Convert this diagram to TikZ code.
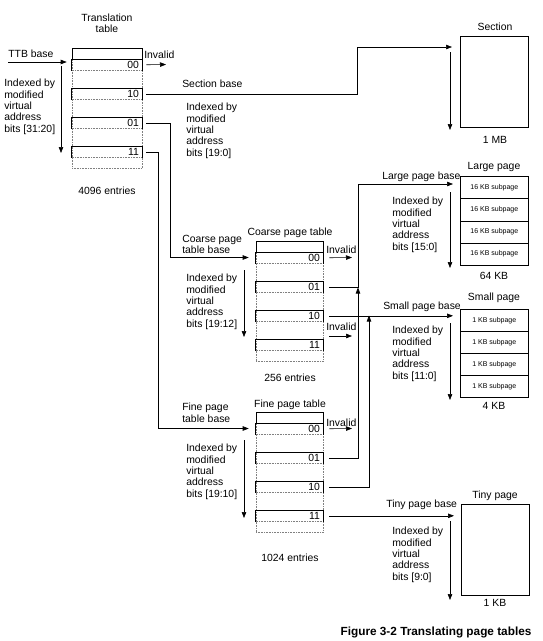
\documentclass[tikz,border=0pt]{standalone}
\usepackage{fontspec}
\setmainfont{Liberation Sans}
\usetikzlibrary{arrows.meta}

\tikzset{
  lbl/.style={inner sep=0pt, align=left, anchor=north west},
  ttl/.style={inner sep=0pt, align=center},
  tbl/.style={draw=gray, densely dotted, minimum width=#1, minimum height=120pt, anchor=north, inner sep=0pt},
  topcell/.style={draw, minimum width=#1, minimum height=11pt, anchor=north, inner sep=0pt},
  entry/.style={text width=#1, align=right, inner xsep=3pt, inner ysep=0pt, minimum height=11pt, anchor=north},
  rowfoot/.style={draw=gray, densely dotted},
  pagebox/.style={draw, minimum width=68pt, minimum height=#1, anchor=north west, inner sep=0pt},
  subpage/.style={draw, minimum width=68pt, minimum height=#1, anchor=north west, inner sep=0pt, font=\fontsize{7}{8}\selectfont},
  link/.style={->},
}

\begin{document}
\begin{tikzpicture}[x=1pt, y=-1pt, >={Triangle[length=6pt,width=4.5pt]}, line width=0.6pt,
  font=\fontsize{10.4}{11.3}\selectfont]
\useasboundingbox (0,0) rectangle (543,641);

% translation table
\node[ttl] (tttitle) at (107,23) {Translation\\table};
\node[tbl=70pt] (tt) at (107,48) {};
\node[topcell=70pt] (tttop) at (tt.north) {};
\foreach \bits [count=\i from 0] in {00,10,01,11} {
  \node[entry=64pt] (tt\bits) at (107,59+29*\i) {\bits};
  \draw[rowfoot] (tt\bits.south west) -- (tt\bits.south east);
  \draw (tt\bits.south west) |- (tt\bits.north east) -- (tt\bits.south east);
}
\node[ttl] (ttcount) at (107,191) {4096 entries};
\node[lbl, anchor=west] (ttblbl) at (8,54) {TTB base};
\node[lbl, anchor=west] (ttinv) at (144,55) {Invalid};
\node[lbl] (ttidx) at (4,79) {Indexed by\\modified\\virtual\\address\\bits [31:20]};

% section
\node[ttl] (sectitle) at (495,27) {Section};
\node[pagebox=91pt] (section) at (460,36) {};
\node[ttl] (secsize) at (495,140) {1 MB};
\node[lbl, anchor=west] (secbase) at (182,84) {Section base};
\node[lbl] (secidx) at (186,103) {Indexed by\\modified\\virtual\\address\\bits [19:0]};

% coarse page table
\node[ttl] (cpttitle) at (290,233) {Coarse page table};
\node[tbl=67pt] (cpt) at (289.5,241) {};
\node[topcell=67pt] (cpttop) at (cpt.north) {};
\foreach \bits [count=\i from 0] in {00,01,10,11} {
  \node[entry=61pt] (cpt\bits) at (289.5,252+29*\i) {\bits};
  \draw[rowfoot] (cpt\bits.south west) -- (cpt\bits.south east);
  \draw (cpt\bits.south west) |- (cpt\bits.north east) -- (cpt\bits.south east);
}
\node[ttl] (cptcount) at (290,378) {256 entries};
\node[lbl] (cptbase) at (182,235) {Coarse page\\table base};
\node[lbl] (cptidx) at (186,274) {Indexed by\\modified\\virtual\\address\\bits [19:12]};
\node[lbl, anchor=west] (cptinva) at (326,250) {Invalid};
\node[lbl, anchor=west] (cptinvb) at (326,327) {Invalid};

% fine page table
\node[ttl] (fpttitle) at (290,405) {Fine page table};
\node[tbl=67pt] (fpt) at (289.5,412) {};
\node[topcell=67pt] (fpttop) at (fpt.north) {};
\foreach \bits [count=\i from 0] in {00,01,10,11} {
  \node[entry=61pt] (fpt\bits) at (289.5,423+29*\i) {\bits};
  \draw[rowfoot] (fpt\bits.south west) -- (fpt\bits.south east);
  \draw (fpt\bits.south west) |- (fpt\bits.north east) -- (fpt\bits.south east);
}
\node[ttl] (fptcount) at (290,558) {1024 entries};
\node[lbl] (fptbase) at (182,403) {Fine page\\table base};
\node[lbl] (fptidx) at (186,444) {Indexed by\\modified\\virtual\\address\\bits [19:10]};
\node[lbl, anchor=west] (fptinv) at (326,423) {Invalid};

% large page
\node[ttl] (lptitle) at (494,167) {Large page};
\foreach \i in {0,...,3}
  \node[subpage=22.25pt] (lp\i) at (460,176+22.25*\i) {16 KB subpage};
\node[ttl] (lpsize) at (494,276) {64 KB};
\node[lbl, anchor=west] (lpbase) at (382,177) {Large page base};
\node[lbl] (lpidx) at (392,197) {Indexed by\\modified\\virtual\\address\\bits [15:0]};

% small page
\node[ttl] (sptitle) at (494,298) {Small page};
\foreach \i in {0,...,3}
  \node[subpage=22pt] (sp\i) at (460,309+22*\i) {1 KB subpage};
\node[ttl] (spsize) at (494,406) {4 KB};
\node[lbl, anchor=west] (spbase) at (383,307) {Small page base};
\node[lbl] (spidx) at (392,326) {Indexed by\\modified\\virtual\\address\\bits [11:0]};

% tiny page
\node[ttl] (tptitle) at (495,496) {Tiny page};
\node[pagebox=91pt] (tiny) at (461,504) {};
\node[ttl] (tpsize) at (495,603) {1 KB};
\node[lbl, anchor=west] (tpbase) at (386,505) {Tiny page base};
\node[lbl] (tpidx) at (392,527) {Indexed by\\modified\\virtual\\address\\bits [9:0]};

\node[ttl, font=\fontsize{11.8}{13}\selectfont\bfseries] (caption) at (436,632) {Figure 3-2 Translating page tables};

% free ends and bends
\coordinate (ttbin) at (8,62);
\coordinate (ttinvend) at (166,64.5);
\coordinate (ttidxa) at (61,66);
\coordinate (ttidxb) at (61,153);
\coordinate (secbend) at (357,47);
\coordinate (secidxa) at (450,52);
\coordinate (secidxb) at (450,130);
\coordinate (cptbend) at (170,257.5);
\coordinate (fptbend) at (158,428.5);
\coordinate (cptidxa) at (244,270);
\coordinate (cptidxb) at (244,337);
\coordinate (cptinvaend) at (352,257.5);
\coordinate (cptinvbend) at (352,336);
\coordinate (fptidxa) at (244,440);
\coordinate (fptidxb) at (244,518);
\coordinate (fptinvend) at (352,428.5);
\coordinate (lpbend) at (358,184);
\coordinate (lpjoin) at (358,287.5);
\coordinate (spjoin) at (369,315.5);
\coordinate (lpidxa) at (450,192);
\coordinate (lpidxb) at (450,268);
\coordinate (spidxa) at (450,323);
\coordinate (spidxb) at (450,400);
\coordinate (tpidxa) at (450,521);
\coordinate (tpidxb) at (450,600);

% connectors
\draw[link, shorten >=5pt] (ttbin) -- (ttbin -| tt.west);
\draw[link, shorten <=4pt] (tt00.east) -- (ttinvend);
\draw[link] (ttidxa) -- (ttidxb);
\draw[link, shorten <=4pt, shorten >=8pt] (tt10.east) -| (secbend) -- (secbend -| section.west);
\draw[link] (secidxa) -- (secidxb);
\draw[link, shorten <=4pt, shorten >=7pt] (tt01.east) -| (cptbend) -- (cptbend -| cpt.west);
\draw[link, shorten <=4pt, shorten >=7pt] (tt11.east) -| (fptbend) -- (fptbend -| fpt.west);
\draw[link] (cptidxa) -- (cptidxb);
\draw[link, shorten <=6pt] (cpt00.east) -- (cptinvaend);
\draw[link, shorten <=6pt] ([yshift=3pt]cpt11.north east) -- (cptinvbend);
\draw[link] (fptidxa) -- (fptidxb);
\draw[link, shorten <=6pt] (fpt00.east) -- (fptinvend);
\draw[link, shorten <=6pt, shorten >=7pt] (cpt01.east) -| (lpbend) -- (lpbend -| lp0.west);
\draw[link, shorten <=6pt] (fpt01.east) -| (lpjoin);
\draw[link, shorten <=6pt, shorten >=7pt] (cpt10.east) -- (cpt10.east -| sp0.west);
\draw[link, shorten <=6pt] (fpt10.east) -| (spjoin);
\draw[link, shorten <=6pt, shorten >=7pt] (fpt11.east) -- (fpt11.east -| tiny.west);
\draw[link] (lpidxa) -- (lpidxb);
\draw[link] (spidxa) -- (spidxb);
\draw[link] (tpidxa) -- (tpidxb);
\end{tikzpicture}
\end{document}
